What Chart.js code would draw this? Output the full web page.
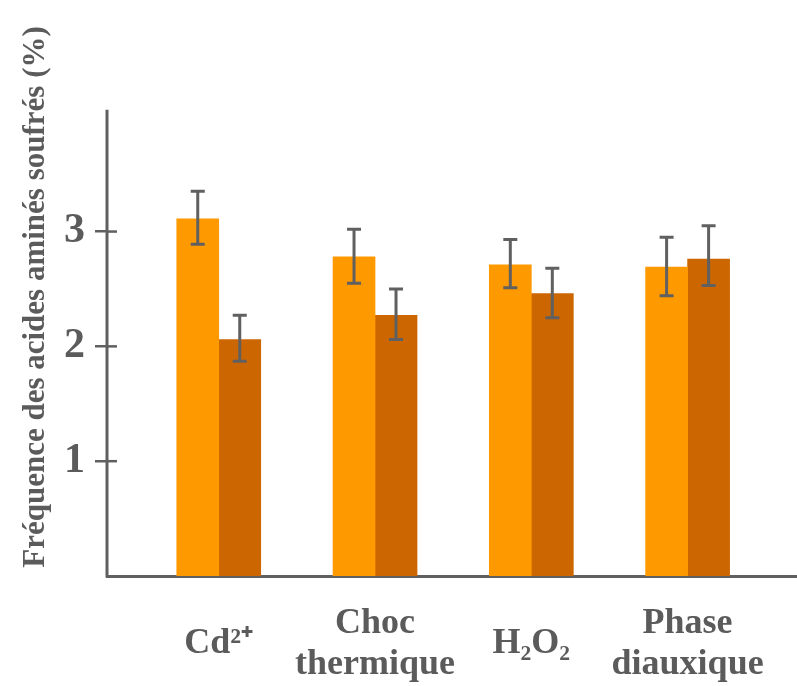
<!DOCTYPE html>
<html>
<head>
<meta charset="utf-8">
<script src="https://cdn.jsdelivr.net/npm/chart.js@4.4.1/dist/chart.umd.min.js"></script>
<style>
  html, body { margin: 0; padding: 0; background: #fff; }
  #wrap { width: 797px; height: 686px; position: relative; }
</style>
</head>
<body>
<div id="wrap"><canvas id="chart"></canvas></div>
<script>
// ===================
// Données
// ===================
const categories = [["Cd²⁺"], ["Choc", "thermique"], ["H₂O₂"], ["Phase", "diauxique"]];
const serieClaire = [3.11, 2.78, 2.71, 2.69];
const serieClaireHaut = [3.35, 3.02, 2.93, 2.95];
const serieClaireBas = [2.89, 2.55, 2.51, 2.44];
const serieFoncee = [2.06, 2.27, 2.46, 2.76];
const serieFonceeHaut = [2.27, 2.50, 2.68, 3.05];
const serieFonceeBas = [1.87, 2.06, 2.25, 2.53];
const yTicks = [1, 2, 3];
const yAxisTop = 4.06;

const gris = "#606060";
const texte = "#5b5b5b";
const police = "'Liberation Serif', 'Times New Roman', serif";

const positions = categories.map((c, i) => i + 1);

// barres d'erreur + axe y (dessinés via les échelles)
const erreurs = {
  id: "erreurs",
  afterDatasetsDraw(chart) {
    const ctx = chart.ctx;
    const y = chart.scales.y;
    const gauche = chart.chartArea.left;
    ctx.save();
    ctx.strokeStyle = gris;

    // axe vertical
    ctx.lineWidth = 3;
    ctx.beginPath();
    ctx.moveTo(gauche, y.getPixelForValue(0) + 1.5);
    ctx.lineTo(gauche, y.getPixelForValue(yAxisTop));
    ctx.stroke();

    // moitié intérieure des graduations
    ctx.lineWidth = 2.5;
    yTicks.forEach((v) => {
      const py = y.getPixelForValue(v);
      ctx.beginPath();
      ctx.moveTo(gauche, py);
      ctx.lineTo(gauche + 10, py);
      ctx.stroke();
    });

    const hauts = [serieClaireHaut, serieFonceeHaut];
    const bas = [serieClaireBas, serieFonceeBas];
    chart.data.datasets.forEach((ds, d) => {
      const meta = chart.getDatasetMeta(d);
      meta.data.forEach((bar, i) => {
        const px = bar.x;
        const top = y.getPixelForValue(hauts[d][i]);
        const bottom = y.getPixelForValue(bas[d][i]);
        ctx.lineWidth = 3;
        ctx.beginPath();
        ctx.moveTo(px, top);
        ctx.lineTo(px, bottom);
        ctx.moveTo(px - 7, top);
        ctx.lineTo(px + 7, top);
        ctx.moveTo(px - 7, bottom);
        ctx.lineTo(px + 7, bottom);
        ctx.stroke();
      });
    });
    ctx.restore();
  },
};

new Chart(document.getElementById("chart"), {
  type: "bar",
  data: {
    datasets: [
      {
        label: "Série 1",
        data: positions.map((p, i) => ({ x: p, y: serieClaire[i] })),
        backgroundColor: "#ff9900",
        barThickness: 42,
      },
      {
        label: "Série 2",
        data: positions.map((p, i) => ({ x: p, y: serieFoncee[i] })),
        backgroundColor: "#cc6600",
        barThickness: 42,
      },
    ],
  },
  plugins: [erreurs],
  options: {
    responsive: true,
    maintainAspectRatio: false,
    animation: false,
    layout: { padding: { top: 18, right: 0, left: 0, bottom: 0 } },
    plugins: {
      legend: { display: false },
      tooltip: { enabled: false },
    },
    scales: {
      x: {
        type: "linear",
        offset: false,
        min: 0.285,
        max: 4.7,
        afterBuildTicks: (s) => {
          s.ticks = positions.map((p) => ({ value: p }));
        },
        afterFit: (s) => {
          s.height = 110;
          s.paddingLeft = 0;
          s.paddingRight = 0;
        },
        grid: { display: false, drawTicks: false },
        border: { display: true, color: gris, width: 3 },
        ticks: {
          callback: (v) => categories[v - 1],
          color: texte,
          font: { family: police, size: 36, weight: "bold", lineHeight: 1.12 },
          padding: 48,
          maxRotation: 0,
          autoSkip: false,
          crossAlign: "center",
        },
      },
      y: {
        min: 0,
        max: 4.86,
        afterBuildTicks: (s) => {
          s.ticks = yTicks.map((v) => ({ value: v }));
        },
        afterFit: (s) => {
          s.width = 107;
          s.paddingTop = 0;
          s.paddingBottom = 0;
        },
        grid: { drawOnChartArea: false, drawTicks: true, tickLength: 12, color: gris, lineWidth: 2.5 },
        border: { display: false },
        ticks: {
          color: texte,
          font: { family: police, size: 42, weight: "bold" },
          padding: 10,
        },
        title: {
          display: true,
          text: "Fréquence des acides aminés soufrés (%)",
          color: texte,
          font: { family: police, size: 31, weight: "bold" },
          padding: { top: 17, bottom: 0 },
        },
      },
    },
  },
});
</script>
</body>
</html>
